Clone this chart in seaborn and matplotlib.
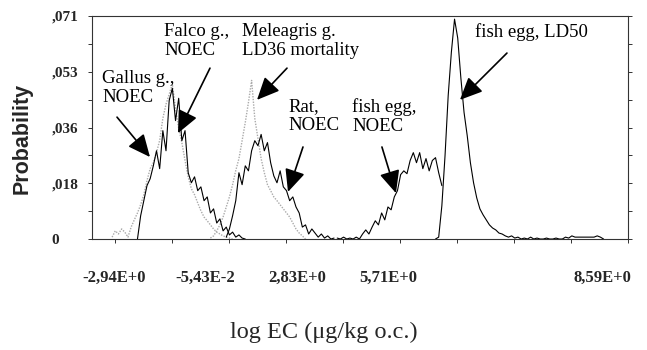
import numpy as np
import pandas as pd
import matplotlib
matplotlib.use("Agg")
import matplotlib.pyplot as plt
import seaborn as sns

# ---- data: probability per log-EC bin (bin width 0.1) ----
STEP = 0.1
gallus_start = -3.0
gallus_noec = [0.0006, 0.0026, 0.0016, 0.0032, 0.0022, 0.0006, 0.0038, 0.0061, 0.0083, 0.0109,
               0.0141, 0.0186, 0.0224, 0.0243, 0.0275, 0.0314, 0.0384, 0.0429, 0.0461, 0.0493,
               0.0416, 0.0352, 0.0307, 0.0250, 0.0198, 0.0160, 0.0141, 0.0115, 0.0090, 0.0070,
               0.0058, 0.0045, 0.0032, 0.0022, 0.0016, 0.0010, 0.0006, 0.0003, 0.0]

falco_start = -2.2
falco_noec = [0.0, 0.0074, 0.0122, 0.0170, 0.0192, 0.0233, 0.0281, 0.0224, 0.0345, 0.0281,
              0.0441, 0.0480, 0.0377, 0.0448, 0.0313, 0.0345, 0.0211, 0.0179, 0.0198, 0.0154,
              0.0166, 0.0122, 0.0134, 0.0083, 0.0096, 0.0051, 0.0064, 0.0026, 0.0038, 0.0013,
              0.0022, 0.0006, 0.0013, 0.0003, 0.0]

meleagris_start = 0.1
meleagris_ld36 = [0.0003, 0.0010, 0.0026, 0.0045, 0.0070, 0.0102, 0.0134, 0.0173, 0.0218, 0.0256,
                  0.0313, 0.0371, 0.0435, 0.0505, 0.0384, 0.0320, 0.0256, 0.0211, 0.0173, 0.0154,
                  0.0134, 0.0122, 0.0109, 0.0096, 0.0083, 0.0070, 0.0051, 0.0032, 0.0019, 0.0010, 0.0]

rat_start = 0.6
rat_noec = [0.0006, 0.0032, 0.0074, 0.0122, 0.0211, 0.0173, 0.0233, 0.0217, 0.0281, 0.0313,
            0.0297, 0.0333, 0.0281, 0.0307, 0.0243, 0.0201, 0.0179, 0.0217, 0.0166, 0.0154,
            0.0122, 0.0134, 0.0102, 0.0083, 0.0038, 0.0045, 0.0016, 0.0032, 0.0019, 0.0006,
            0.0016, 0.0003, 0.0010, 0.0, 0.0003]

fish_noec_start = 4.1
fish_noec = [0.0003, 0.0, 0.0006, 0.0, 0.0003, 0.0, 0.0006, 0.0, 0.0016, 0.0029,
             0.0016, 0.0038, 0.0058, 0.0045, 0.0083, 0.0061, 0.0102, 0.0093, 0.0134, 0.0154,
             0.0205, 0.0217, 0.0208, 0.0250, 0.0275, 0.0243, 0.0275, 0.0224, 0.0256, 0.0217,
             0.0250, 0.0259, 0.0211, 0.0170]

fish_ld50_start = 7.2
fish_ld50 = [0.0, 0.0006, 0.0106, 0.0265, 0.0457, 0.0595, 0.0700, 0.0640, 0.0512, 0.0403,
             0.0329, 0.0243, 0.0179, 0.0131, 0.0096, 0.0077, 0.0061, 0.0045, 0.0035, 0.0029,
             0.0019, 0.0016, 0.0010, 0.0006, 0.0010, 0.0003, 0.0006, 0.0, 0.0003, 0.0,
             0.0006, 0.0, 0.0003, 0.0, 0.0, 0.0003, 0.0, 0.0, 0.0003, 0.0,
             0.0, 0.0006, 0.0003, 0.0010, 0.0006, 0.0006, 0.0006, 0.0006, 0.0006, 0.0006,
             0.0006, 0.0010, 0.0006, 0.0]

ytick_vals = [0, 0.01775, 0.0355, 0.05325, 0.071]
ytick_labels = ["0", ",018", ",036", ",053", ",071"]
xtick_vals = [-2.94, -0.0543, 2.83, 5.71, 12.45]
xtick_labels = ["-2,94E+0", "-5,43E-2", "2,83E+0", "5,71E+0", "8,59E+0"]
xminor_vals = [-2.91, -1.11, 0.685, 2.48, 4.28, 6.08, 7.87, 9.67, 11.47, 13.27]

annotations = [
    ("Gallus g.,\nNOEC", (-3.318, 0.0537), (-2.845, 0.0388), (-1.805, 0.0261)),
    ("Falco g.,\nNOEC", (-1.363, 0.0687), (0.087, 0.0544), (-0.922, 0.0337)),
    ("Meleagris g.\nLD36 mortality", (1.097, 0.0687), (2.516, 0.0544), (1.570, 0.0443)),
    ("Rat,\nNOEC", (2.547, 0.0449), (3.02, 0.0293), (2.547, 0.0150)),
    ("fish egg,\nNOEC", (4.566, 0.0449), (5.51, 0.0293), (5.953, 0.0146)),
    ("fish egg, LD50", (8.444, 0.0687), (9.453, 0.0592), (7.971, 0.0443)),
]


def frame(start, vals):
    return pd.DataFrame({"logEC": start + STEP * np.arange(len(vals)), "prob": vals})


sns.set_theme(style="white")
plt.rcParams["font.family"] = ["Liberation Serif", "DejaVu Serif"]

fig = plt.figure(figsize=(6.47, 3.5), dpi=100)
ax = fig.add_axes([0.1422, 0.3171, 0.8284, 0.6372])

gray_kw = dict(color="#aaaaaa", linewidth=1.0, linestyle=(0, (1, 1)))
black_kw = dict(color="black", linewidth=0.8)

sns.lineplot(data=frame(gallus_start, gallus_noec), x="logEC", y="prob", ax=ax, estimator=None, **gray_kw)
sns.lineplot(data=frame(meleagris_start, meleagris_ld36), x="logEC", y="prob", ax=ax, estimator=None, **gray_kw)
sns.lineplot(data=frame(falco_start, falco_noec), x="logEC", y="prob", ax=ax, estimator=None, **black_kw)
sns.lineplot(data=frame(rat_start, rat_noec), x="logEC", y="prob", ax=ax, estimator=None, **black_kw)
sns.lineplot(data=frame(fish_noec_start, fish_noec), x="logEC", y="prob", ax=ax, estimator=None, **black_kw)
sns.lineplot(data=frame(fish_ld50_start, fish_ld50), x="logEC", y="prob", ax=ax, estimator=None, **black_kw)

ax.set_xlim(-3.634, 13.27)
ax.set_ylim(0, 0.071)
ax.set_xlabel("")
ax.set_ylabel("")

for s in ax.spines.values():
    s.set_visible(True)
    s.set_color("#333333")
    s.set_linewidth(0.8)

ax.set_yticks(ytick_vals)
ax.set_yticklabels(ytick_labels)
ax.set_yticks([v + 0.008875 for v in ytick_vals[:-1]], minor=True)
ax.tick_params(axis="y", which="both", left=True, right=True, direction="out",
               length=3, width=0.7, color="#333333")
ax.tick_params(axis="y", which="major", pad=26, labelsize=11)
for lbl in ax.get_yticklabels():
    lbl.set_horizontalalignment("left")
    lbl.set_fontweight("bold")

ax.set_xticks(xtick_vals)
ax.set_xticklabels(xtick_labels)
ax.set_xticks(xminor_vals, minor=True)
ax.tick_params(axis="x", which="major", bottom=True, length=0, pad=22, labelsize=12)
ax.tick_params(axis="x", which="minor", bottom=True, direction="out", length=3,
               width=0.7, color="#333333")
for lbl in ax.get_xticklabels():
    lbl.set_fontweight("bold")

for text, tpos, tail, tip in annotations:
    ax.text(tpos[0], tpos[1], text, ha="left", va="top", fontsize=13.5,
            color="black", linespacing=1.15)
    ax.annotate("", xy=tip, xytext=tail,
                arrowprops=dict(arrowstyle="-|>,head_length=0.55,head_width=0.25",
                                mutation_scale=25, lw=1.2, color="black",
                                shrinkA=0, shrinkB=0))

fig.text(22 / 647, 1 - 138 / 350, "Probability", rotation=90, ha="center", va="center",
         fontsize=15.5, fontweight="bold", family=["Liberation Sans", "DejaVu Sans"])
fig.text(324 / 647, 12 / 350, "log EC (\u03bcg/kg o.c.)", ha="center", va="baseline",
         fontsize=17.5)

fig.savefig("out.png", dpi=100)
